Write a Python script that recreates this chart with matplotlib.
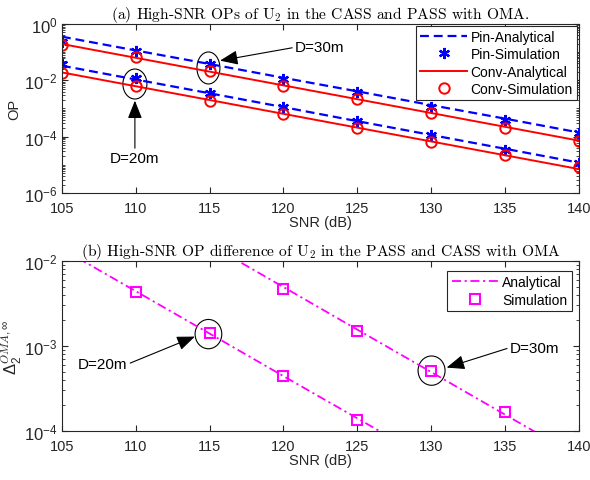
import matplotlib
matplotlib.use('Agg')
from matplotlib import pyplot as plt
from matplotlib import ticker, transforms
from matplotlib.patches import Ellipse

plt.rcParams['font.family'] = ['Liberation Sans', 'DejaVu Sans']
plt.rcParams['mathtext.fontset'] = 'cm'
plt.rcParams['mathtext.default'] = 'regular'

# SNR (dB)
snr = [105, 110, 115, 120, 125, 130, 135, 140]

# (a) high-SNR OP, D=30m
pin_ana_30 = [0.355, 0.115, 0.0380, 0.0123, 4.07e-3, 1.32e-3, 4.37e-4, 1.41e-4]
pin_sim_30 = [0.224, 0.112, 0.0380, 0.0112, 3.98e-3, 1.17e-3, 3.98e-4, 1.35e-4]
conv_ana_30 = [0.195, 0.0631, 0.0204, 6.61e-3, 2.14e-3, 6.92e-4, 2.24e-4, 7.24e-5]
conv_sim_30 = [0.178, 0.0692, 0.0209, 6.46e-3, 2.19e-3, 6.76e-4, 2.04e-4, 6.76e-5]
# (a) high-SNR OP, D=20m
pin_ana_20 = [0.0331, 0.0107, 3.47e-3, 1.12e-3, 3.55e-4, 1.15e-4, 3.72e-5, 1.20e-5]
pin_sim_20 = [0.0380, 0.0117, 3.47e-3, 1.10e-3, 3.72e-4, 1.10e-4, 3.47e-5, 1.12e-5]
conv_ana_20 = [0.0191, 6.17e-3, 2.00e-3, 6.46e-4, 2.09e-4, 6.76e-5, 2.19e-5, 7.08e-6]
conv_sim_20 = [0.0178, 6.17e-3, 1.91e-3, 6.46e-4, 2.00e-4, 6.31e-5, 2.24e-5, 8.51e-6]

# (b) OP difference
snr_d20 = [105, 110, 115, 120, 125, 130]
diff_ana_20 = [1.39e-2, 4.41e-3, 1.40e-3, 4.42e-4, 1.41e-4, 4.47e-5]
snr_d20_sim = [110, 115, 120, 125]
diff_sim_20 = [4.37e-3, 1.41e-3, 4.47e-4, 1.35e-4]
snr_d30 = [115, 120, 125, 130, 135, 140]
diff_ana_30 = [1.56e-2, 4.94e-3, 1.56e-3, 4.94e-4, 1.56e-4, 4.94e-5]
snr_d30_sim = [120, 125, 130, 135]
diff_sim_30 = [4.68e-3, 1.51e-3, 5.13e-4, 1.66e-4]

dark = '#262626'
star = (6, 2, 0)

fig = plt.figure(figsize=(5.9, 4.81), dpi=100)
ax1 = fig.add_axes([0.105, 0.5967, 0.876, 0.3513])
ax2 = fig.add_axes([0.105, 0.1019, 0.876, 0.3534])


def style_axes(ax):
    ax.set_yscale('log')
    ax.set_xlim(105, 140)
    ax.set_xticks(snr)
    ax.tick_params(which='both', direction='in', top=True, right=True,
                   colors=dark, labelcolor=dark)
    ax.tick_params(axis='x', labelsize=10.5, pad=6)
    ax.tick_params(axis='y', labelsize=12, pad=3)
    ax.tick_params(which='major', length=4)
    ax.tick_params(which='minor', length=2)
    for s in ax.spines.values():
        s.set_color(dark)
        s.set_linewidth(0.8)
    ax.set_xlabel('SNR (dB)', fontsize=10.5, color=dark, labelpad=0)


def ellipse(ax, x, y, w, h):
    # w, h in inches, centred on data point
    tr = fig.dpi_scale_trans + transforms.ScaledTranslation(x, y, ax.transData)
    ax.add_patch(Ellipse((0, 0), w, h, transform=tr, fill=False,
                         edgecolor='black', lw=0.8, clip_on=False))


arrow = dict(arrowstyle='-|>,head_length=0.55,head_width=0.22',
             mutation_scale=20, color='black', lw=0.8, shrinkA=0, shrinkB=0)

# ---- (a) ----
style_axes(ax1)
ax1.set_ylim(1e-6, 1)
ax1.yaxis.set_major_locator(ticker.LogLocator(base=100, numticks=10))
ax1.yaxis.set_minor_locator(ticker.LogLocator(base=10, subs=range(1, 10), numticks=20))
ax1.yaxis.set_minor_formatter(ticker.NullFormatter())

dash_kw = dict(color='#0000ff', lw=1.6, dashes=(4, 2.2))
ax1.plot(snr, pin_ana_30, label='Pin-Analytical', **dash_kw)
ax1.plot(snr, pin_ana_20, **dash_kw)
ax1.plot(snr, pin_sim_30, ls='none', marker=star, ms=8, mew=1.6,
         color='#0000ff', label='Pin-Simulation')
ax1.plot(snr, pin_sim_20, ls='none', marker=star, ms=8, mew=1.6, color='#0000ff')
ax1.plot(snr, conv_ana_30, color='#ff0000', lw=1.4, label='Conv-Analytical')
ax1.plot(snr, conv_ana_20, color='#ff0000', lw=1.4)
ax1.plot(snr, conv_sim_30, ls='none', marker='o', ms=7.5, mew=1.4, mfc='none',
         color='#ff0000', label='Conv-Simulation')
ax1.plot(snr, conv_sim_20, ls='none', marker='o', ms=7.5, mew=1.4, mfc='none',
         color='#ff0000')

ellipse(ax1, 114.92, 0.0275, 0.23, 0.32)
ellipse(ax1, 109.94, 7.4e-3, 0.24, 0.30)
ax1.annotate('D=30m', xy=(115.7, 0.050), xytext=(120.78, 0.149), fontsize=11,
             ha='left', va='center', color='black',
             arrowprops=dict(relpos=(0, 0.5), **arrow))
ax1.annotate('D=20m', xy=(109.94, 1.9e-3), xytext=(109.94, 1.75e-5), fontsize=11,
             ha='center', va='center', color='black',
             arrowprops=dict(relpos=(0.5, 1), **arrow))

ax1.set_ylabel('OP', fontsize=10.5, color=dark, labelpad=2)
ax1.set_title(r'(a) High-SNR OPs of $\mathrm{U}_2$ in the CASS and PASS with OMA.',
              fontfamily='cmr10', fontsize=11.2, pad=4)
leg1 = ax1.legend(loc='upper right', bbox_to_anchor=(0.9967, 0.99), fontsize=10,
                  numpoints=1, handlelength=3.4, handletextpad=0.25,
                  labelspacing=0.25, borderpad=0.3, borderaxespad=0,
                  fancybox=False, framealpha=1, edgecolor=dark)
leg1.get_frame().set_linewidth(0.8)

# ---- (b) ----
style_axes(ax2)
ax2.set_ylim(1e-4, 1e-2)
ax2.yaxis.set_major_locator(ticker.LogLocator(base=10, numticks=10))
ax2.yaxis.set_minor_locator(ticker.LogLocator(base=10, subs=range(2, 10), numticks=20))
ax2.yaxis.set_minor_formatter(ticker.NullFormatter())

dd_kw = dict(color='#ff00ff', lw=1.3, ls=(0, (5, 2, 1.2, 2)))
ax2.plot(snr_d20, diff_ana_20, label='Analytical', **dd_kw)
ax2.plot(snr_d30, diff_ana_30, **dd_kw)
ax2.plot(snr_d20_sim, diff_sim_20, ls='none', marker='s', ms=6.5, mew=1.5,
         mfc='none', color='#ff00ff', label='Simulation')
ax2.plot(snr_d30_sim, diff_sim_30, ls='none', marker='s', ms=6.5, mew=1.5,
         mfc='none', color='#ff00ff')

ellipse(ax2, 114.92, 1.38e-3, 0.267, 0.293)
ellipse(ax2, 130.03, 5.13e-4, 0.27, 0.293)
ax2.annotate('D=20m', xy=(114.0, 1.29e-3), xytext=(106.08, 6.1e-4), fontsize=11,
             ha='left', va='center', color='black',
             arrowprops=dict(relpos=(1, 0.5), **arrow))
ax2.annotate('D=30m', xy=(131.05, 5.57e-4), xytext=(135.33, 9.57e-4), fontsize=11,
             ha='left', va='center', color='black',
             arrowprops=dict(relpos=(0, 0.5), **arrow))

ax2.set_ylabel(r'$\Delta_2^{\mathit{OMA},\infty}$', fontsize=12, color=dark, labelpad=0)
ax2.set_title(r'(b) High-SNR OP difference of $\mathrm{U}_2$ in the PASS and CASS with OMA',
              fontfamily='cmr10', fontsize=11.2, pad=4)
leg2 = ax2.legend(loc='upper right', bbox_to_anchor=(0.986, 0.941), fontsize=10,
                  numpoints=1, handlelength=3.4, handletextpad=0.25,
                  labelspacing=0.25, borderpad=0.3, borderaxespad=0,
                  fancybox=False, framealpha=1, edgecolor=dark)
leg2.get_frame().set_linewidth(0.8)

fig.savefig('out.png', dpi=100)
